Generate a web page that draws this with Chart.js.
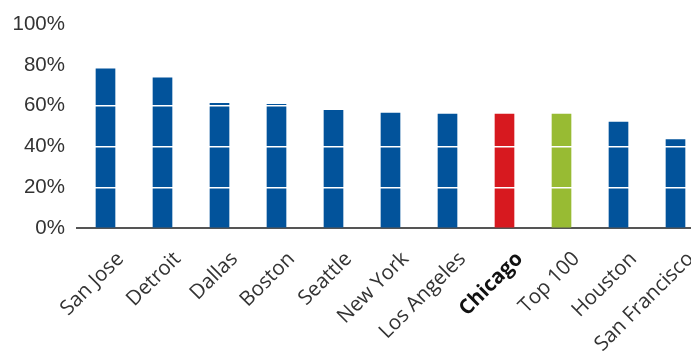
<!DOCTYPE html>
<html>
<head>
<meta charset="utf-8">
<script src="https://cdn.jsdelivr.net/npm/chart.js@4"></script>
<style>
  html, body { margin: 0; padding: 0; background: #fff; overflow: hidden; }
  #wrap { width: 704px; height: 352px; }
</style>
</head>
<body>
<div id="wrap"><canvas id="chart" width="704" height="352"></canvas></div>
<script>
// city shares, in percent
const cities = ['San Jose', 'Detroit', 'Dallas', 'Boston', 'Seattle', 'New York',
  'Los Angeles', 'Chicago', 'Top 100', 'Houston', 'San Francisco'];
const shares = [78.1, 73.7, 61.2, 60.7, 57.8, 56.4, 55.9, 55.9, 55.9, 52.0, 43.4];
const yTicks = [0, 20, 40, 60, 80, 100];

const BLUE = '#02539b', RED = '#d7191f', GREEN = '#98bb33';
const barColors = cities.map(c => c === 'Chicago' ? RED : c === 'Top 100' ? GREEN : BLUE);

new Chart(document.getElementById('chart'), {
  type: 'bar',
  data: {
    labels: cities,
    datasets: [{ data: shares, backgroundColor: barColors, barThickness: 19, borderWidth: 0 }]
  },
  options: {
    responsive: false,
    animation: false,
    layout: { padding: { top: 11, left: 0, right: 0, bottom: 0 } },
    plugins: { legend: { display: false }, tooltip: { enabled: false } },
    scales: {
      x: {
        grid: { display: false },
        border: { color: '#555', width: 2 },
        afterFit: s => { s.height = 124; },
        ticks: {
          autoSkip: false,
          minRotation: 45,
          maxRotation: 45,
          padding: 11,
          labelOffset: 15,
          color: ctx => cities[ctx.index] === 'Chicago' ? '#111' : '#333',
          font: ctx => ({
            family: 'Open Sans',
            size: 20.5,
            weight: cities[ctx.index] === 'Chicago' ? 'bold' : 'normal'
          })
        }
      },
      y: {
        min: 0,
        max: 100,
        afterFit: s => { s.width = 77; },
        afterBuildTicks: s => { s.ticks = yTicks.map(v => ({ value: v })); },
        border: { display: false },
        // white grid lines sit on top of the bars
        grid: {
          z: 1,
          drawTicks: false,
          lineWidth: 1.5,
          color: ctx => ctx.tick && ctx.tick.value === 0 ? 'rgba(0,0,0,0)' : '#ffffff'
        },
        ticks: {
          padding: 12,
          color: '#333',
          font: { family: 'Liberation Sans', size: 20.5 },
          callback: v => v + '%'
        }
      }
    }
  }
});
</script>
</body>
</html>
